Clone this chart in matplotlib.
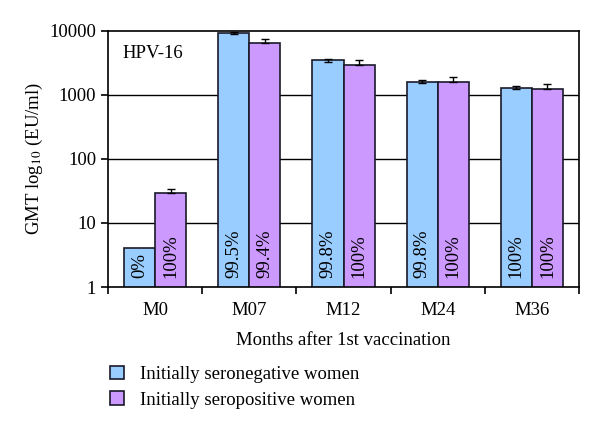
import numpy as np
import matplotlib.pyplot as plt
from matplotlib.patches import Patch

plt.rcParams['font.family'] = ['Liberation Serif', 'DejaVu Serif']
plt.rcParams['mathtext.fontset'] = 'stix'

# Data
months = ["M0", "M07", "M12", "M24", "M36"]
seroneg_gmt = [4.0, 9300, 3500, 1600, 1290]
seroneg_low = [4.0, 8850, 3320, 1530, 1220]
seroneg_high = [4.0, 9750, 3700, 1680, 1360]
seropos_gmt = [29.5, 6500, 2950, 1600, 1240]
seropos_high = [34, 7500, 3500, 1930, 1490]
seroneg_pct = ["0%", "99.5%", "99.8%", "99.8%", "100%"]
seropos_pct = ["100%", "99.4%", "100%", "100%", "100%"]

blue = "#99CCFF"
purple = "#CC99FF"
fs = 13.5

fig = plt.figure(figsize=(6, 4.29), dpi=100)
ax = fig.add_axes([0.18, 0.331, 0.785, 0.597])

x = np.arange(len(months))
w = 0.33

ax.set_yscale('log')
ax.set_ylim(1, 10000)
ax.set_xlim(-0.5, len(months) - 0.5)

for yv in [10, 100, 1000]:
    ax.axhline(yv, color='black', lw=1.0, zorder=0)

ax.bar(x - w / 2, seroneg_gmt, w, color=blue, edgecolor='#1a1a2a', lw=1.2, zorder=2)
ax.bar(x + w / 2, seropos_gmt, w, color=purple, edgecolor='#1a1a2a', lw=1.2, zorder=2)

neg_err = [np.array(seroneg_gmt) - np.array(seroneg_low),
           np.array(seroneg_high) - np.array(seroneg_gmt)]
for i in range(1, len(months)):
    ax.errorbar(x[i] - w / 2, seroneg_gmt[i],
                yerr=[[neg_err[0][i]], [neg_err[1][i]]],
                fmt='none', ecolor='black', elinewidth=1, capsize=3, zorder=3)
pos_up = np.array(seropos_high) - np.array(seropos_gmt)
ax.errorbar(x + w / 2, seropos_gmt, yerr=[np.zeros(len(months)), pos_up],
            fmt='none', ecolor='black', elinewidth=1, capsize=3, zorder=3)

for i in range(len(months)):
    ax.text(x[i] - w / 2, 1.38, seroneg_pct[i], rotation=90, ha='center', va='bottom',
            fontsize=fs, zorder=4)
    ax.text(x[i] + w / 2, 1.38, seropos_pct[i], rotation=90, ha='center', va='bottom',
            fontsize=fs, zorder=4)

ax.set_yticks([1, 10, 100, 1000, 10000])
ax.set_yticklabels(["1", "10", "100", "1000", "10000"], fontsize=fs)
ax.yaxis.set_minor_locator(plt.NullLocator())
ax.set_xticks(np.arange(-0.5, len(months)), minor=False)
ax.set_xticklabels([])
ax.set_xticks(x, minor=True)
ax.set_xticklabels(months, minor=True, fontsize=fs)
ax.tick_params(axis='x', which='minor', length=0, pad=11)
ax.tick_params(axis='x', which='major', length=5, width=1.2, direction='out')
ax.tick_params(axis='y', length=5, width=1.2, direction='out')
for s in ax.spines.values():
    s.set_linewidth(1.2)

ax.set_ylabel("GMT log$_{10}$ (EU/ml)", fontsize=fs, labelpad=3)
ax.set_xlabel("Months after 1st vaccination", fontsize=fs, labelpad=9)
ax.text(0.03, 0.91, "HPV-16", transform=ax.transAxes, fontsize=fs, va='center')

handles = [Patch(facecolor=blue, edgecolor='#1a1a2a', lw=1.2),
           Patch(facecolor=purple, edgecolor='#1a1a2a', lw=1.2)]
fig.legend(handles, ["Initially seronegative women", "Initially seropositive women"],
           loc='upper left', bbox_to_anchor=(0.183, 0.148), frameon=False, fontsize=fs,
           handlelength=0.75, handleheight=0.75, labelspacing=0.45, handletextpad=0.85,
           borderaxespad=0, borderpad=0)

fig.savefig("out.png", dpi=100)
